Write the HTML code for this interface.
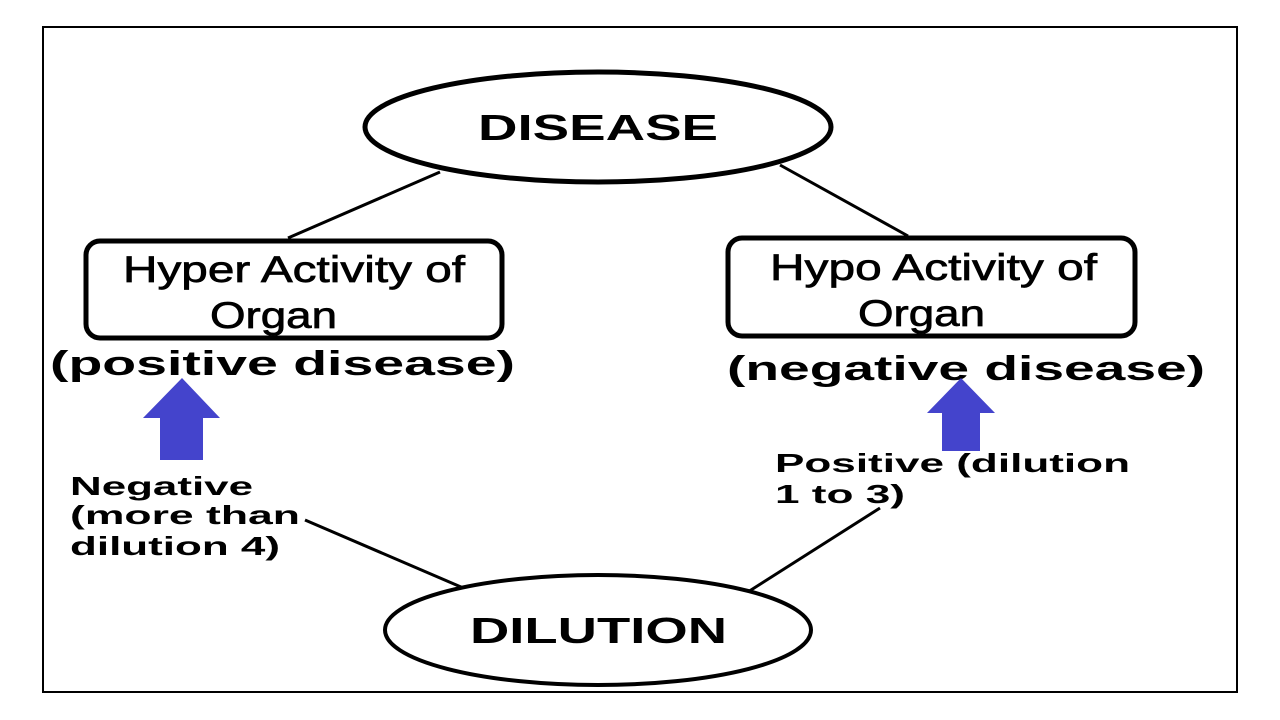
<!DOCTYPE html>
<html><head><style>html,body{margin:0;padding:0;background:#fff;}svg{display:block;}</style></head>
<body>
<svg width="1280" height="720" viewBox="0 0 1280 720" xmlns="http://www.w3.org/2000/svg" font-family="Liberation Sans, Arial, sans-serif">
<rect x="0" y="0" width="1280" height="720" fill="#fff"/>
<rect x="43" y="27" width="1194" height="665" fill="none" stroke="#000" stroke-width="2"/>
<g stroke="#000" stroke-width="3" fill="none">
<line x1="440" y1="172" x2="288" y2="238"/>
<line x1="780" y1="165" x2="908" y2="236"/>
<line x1="305" y1="520" x2="468" y2="590"/>
<line x1="880" y1="508" x2="740" y2="597"/>
</g>
<ellipse cx="598" cy="127" rx="233" ry="55" fill="#fff" stroke="#000" stroke-width="5"/>
<text x="478" y="140" font-size="36" font-weight="bold" textLength="240" lengthAdjust="spacingAndGlyphs">DISEASE</text>
<ellipse cx="598" cy="630" rx="213" ry="55" fill="#fff" stroke="#000" stroke-width="4"/>
<text x="470" y="643" font-size="36" font-weight="bold" textLength="257" lengthAdjust="spacingAndGlyphs">DILUTION</text>
<rect x="86" y="241" width="416" height="97" rx="14" fill="#fff" stroke="#000" stroke-width="5"/>
<text x="123" y="282" font-size="37" stroke="#000" stroke-width="0.7" textLength="342" lengthAdjust="spacingAndGlyphs">Hyper Activity of</text>
<text x="210" y="328" font-size="37" stroke="#000" stroke-width="0.7" textLength="127" lengthAdjust="spacingAndGlyphs">Organ</text>
<rect x="728" y="238" width="407" height="98" rx="14" fill="#fff" stroke="#000" stroke-width="5"/>
<text x="770" y="280" font-size="37" stroke="#000" stroke-width="0.7" textLength="327" lengthAdjust="spacingAndGlyphs">Hypo Activity of</text>
<text x="858" y="326" font-size="37" stroke="#000" stroke-width="0.7" textLength="127" lengthAdjust="spacingAndGlyphs">Organ</text>
<text x="50" y="375" font-size="34" font-weight="bold" textLength="465" lengthAdjust="spacingAndGlyphs">(positive disease)</text>
<text x="727" y="380" font-size="34" font-weight="bold" textLength="478" lengthAdjust="spacingAndGlyphs">(negative disease)</text>
<polygon points="182,378 220,418 203,418 203,460 160,460 160,418 143,418" fill="#4444cc"/>
<polygon points="961,378 995,413 980,413 980,451 942,451 942,413 927,413" fill="#4444cc"/>
<g font-size="26" font-weight="bold" lengthAdjust="spacingAndGlyphs">
<text x="70" y="495" textLength="183" lengthAdjust="spacingAndGlyphs">Negative</text>
<text x="70" y="524" textLength="230" lengthAdjust="spacingAndGlyphs">(more than</text>
<text x="70" y="555" textLength="210" lengthAdjust="spacingAndGlyphs">dilution 4)</text>
<text x="775" y="472" textLength="355" lengthAdjust="spacingAndGlyphs">Positive (dilution</text>
<text x="775" y="503" textLength="130" lengthAdjust="spacingAndGlyphs">1 to 3)</text>
</g>
</svg>
</body></html>
